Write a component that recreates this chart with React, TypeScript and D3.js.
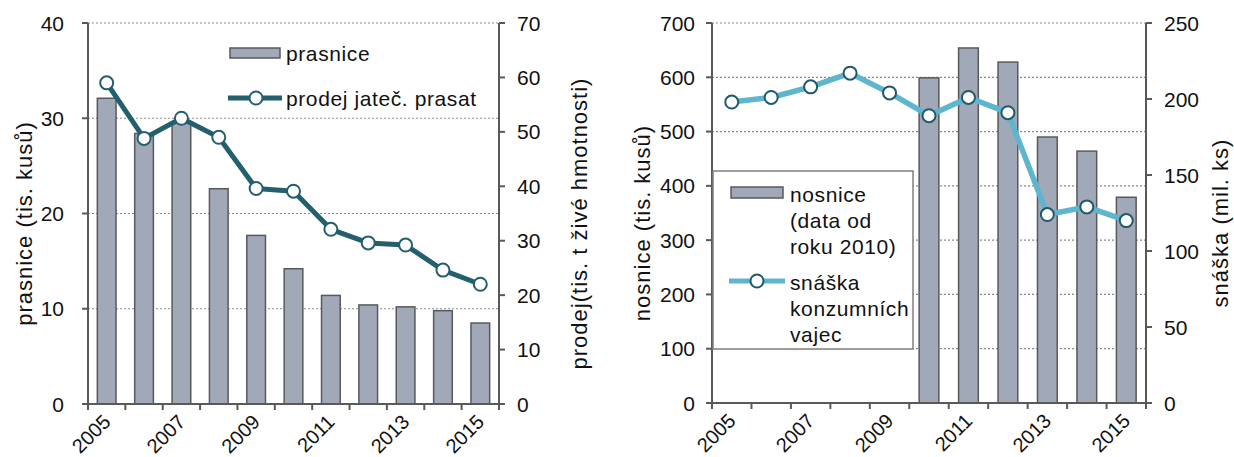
import { useEffect, useRef } from 'react'
import * as d3 from 'd3'

// Data
const years = ['2005', '2006', '2007', '2008', '2009', '2010', '2011', '2012', '2013', '2014', '2015']
const shownYears = ['2005', '2007', '2009', '2011', '2013', '2015']

const sows = [32.1, 28.4, 29.5, 22.6, 17.7, 14.2, 11.4, 10.4, 10.2, 9.8, 8.5]
const pigSales = [59.0, 48.8, 52.5, 49.0, 39.6, 39.1, 32.1, 29.6, 29.2, 24.6, 22.0]

const hens: (number | null)[] = [null, null, null, null, null, 599, 654, 628, 490, 464, 379]
const eggs = [198, 201, 208, 217, 204, 189, 201, 191, 124, 129, 120]

const sowsTicks = [0, 10, 20, 30, 40]
const pigSalesTicks = [0, 10, 20, 30, 40, 50, 60, 70]
const hensTicks = [0, 100, 200, 300, 400, 500, 600, 700]
const eggsTicks = [0, 50, 100, 150, 200, 250]

const FONT = '"Liberation Sans", Arial, sans-serif'
const AXIS = '#595959'
const BAR_FILL = '#a1a8b8'

interface PanelConfig {
  left: number
  right: number
  top: number
  bottom: number
  barValues: (number | null)[]
  lineValues: number[]
  leftTicks: number[]
  rightTicks: number[]
  lineColor: string
  lineWidth: number
  markerStroke: string
  leftLabelGap: number
  leftTitle: string
  leftTitleX: number
  rightTitle: string
  rightTitleX: number
}

function drawPanel(svg: d3.Selection<SVGSVGElement, unknown, null, undefined>, cfg: PanelConfig) {
  const g = svg.append('g')
  const x = d3.scaleBand<string>().domain(years).range([cfg.left, cfg.right])
  const step = x.step()
  const yL = d3.scaleLinear().domain([0, d3.max(cfg.leftTicks)!]).range([cfg.bottom, cfg.top])
  const yR = d3.scaleLinear().domain([0, d3.max(cfg.rightTicks)!]).range([cfg.bottom, cfg.top])

  // gridlines
  g.selectAll('.grid')
    .data(cfg.leftTicks.filter(t => t > 0))
    .join('line')
    .attr('x1', cfg.left)
    .attr('x2', cfg.right)
    .attr('y1', d => yL(d))
    .attr('y2', d => yL(d))
    .attr('stroke', '#8a8a8a')
    .attr('stroke-width', 1.2)
    .attr('stroke-dasharray', '2,2')

  // bars
  const barW = step * 0.5
  g.selectAll('.bar')
    .data(years.map((y, i) => ({ y, v: cfg.barValues[i] })).filter(d => d.v !== null))
    .join('rect')
    .attr('x', d => x(d.y)! + (step - barW) / 2)
    .attr('width', barW)
    .attr('y', d => yL(d.v as number))
    .attr('height', d => cfg.bottom - yL(d.v as number))
    .attr('fill', BAR_FILL)
    .attr('stroke', AXIS)
    .attr('stroke-width', 1.5)

  // axes
  g.append('line')
    .attr('x1', cfg.left).attr('x2', cfg.left)
    .attr('y1', cfg.top).attr('y2', cfg.bottom)
    .attr('stroke', AXIS).attr('stroke-width', 2)
  g.append('line')
    .attr('x1', cfg.right).attr('x2', cfg.right)
    .attr('y1', cfg.top).attr('y2', cfg.bottom)
    .attr('stroke', AXIS).attr('stroke-width', 2)
  g.append('line')
    .attr('x1', cfg.left - 6).attr('x2', cfg.right + 6)
    .attr('y1', cfg.bottom).attr('y2', cfg.bottom)
    .attr('stroke', AXIS).attr('stroke-width', 2)

  // left ticks + labels
  cfg.leftTicks.forEach(t => {
    g.append('line')
      .attr('x1', cfg.left - 6).attr('x2', cfg.left)
      .attr('y1', yL(t)).attr('y2', yL(t))
      .attr('stroke', AXIS).attr('stroke-width', 2)
    g.append('text')
      .attr('x', cfg.left - cfg.leftLabelGap)
      .attr('y', yL(t))
      .attr('dy', '0.36em')
      .attr('text-anchor', 'end')
      .attr('font-size', 21)
      .attr('fill', '#111')
      .text(t)
  })

  // right ticks + labels
  cfg.rightTicks.forEach(t => {
    g.append('line')
      .attr('x1', cfg.right).attr('x2', cfg.right + 6)
      .attr('y1', yR(t)).attr('y2', yR(t))
      .attr('stroke', AXIS).attr('stroke-width', 2)
    g.append('text')
      .attr('x', cfg.right + 18)
      .attr('y', yR(t))
      .attr('dy', '0.36em')
      .attr('font-size', 21)
      .attr('fill', '#111')
      .text(t)
  })

  // x ticks between categories
  d3.range(years.length + 1).forEach(i => {
    const xx = cfg.left + i * step
    g.append('line')
      .attr('x1', xx).attr('x2', xx)
      .attr('y1', cfg.bottom).attr('y2', cfg.bottom + 6)
      .attr('stroke', AXIS).attr('stroke-width', 2)
  })

  // x labels
  shownYears.forEach(yr => {
    const cx = x(yr)! + step / 2
    g.append('text')
      .attr('transform', `translate(${cx},${cfg.bottom + 14}) rotate(-45)`)
      .attr('dy', '0.36em')
      .attr('text-anchor', 'end')
      .attr('font-size', 20)
      .attr('fill', '#111')
      .text(yr)
  })

  // line series
  const line = d3
    .line<number>()
    .x((_, i) => x(years[i])! + step / 2)
    .y(d => yR(d))
  g.append('path')
    .datum(cfg.lineValues)
    .attr('d', line)
    .attr('fill', 'none')
    .attr('stroke', cfg.lineColor)
    .attr('stroke-width', cfg.lineWidth)
    .attr('stroke-linejoin', 'round')

  g.selectAll('.marker')
    .data(cfg.lineValues)
    .join('circle')
    .attr('cx', (_, i) => x(years[i])! + step / 2)
    .attr('cy', d => yR(d))
    .attr('r', 6.5)
    .attr('fill', '#fff')
    .attr('stroke', cfg.markerStroke)
    .attr('stroke-width', 2)

  // axis titles
  const midY = (cfg.top + cfg.bottom) / 2 + 10
  g.append('text')
    .attr('transform', `translate(${cfg.leftTitleX},${midY}) rotate(-90)`)
    .attr('dy', '0.36em')
    .attr('text-anchor', 'middle')
    .attr('font-size', 22)
    .attr('letter-spacing', 1)
    .attr('fill', '#111')
    .text(cfg.leftTitle)
  g.append('text')
    .attr('transform', `translate(${cfg.rightTitleX},${midY}) rotate(-90)`)
    .attr('dy', '0.36em')
    .attr('text-anchor', 'middle')
    .attr('font-size', 22)
    .attr('letter-spacing', 1)
    .attr('fill', '#111')
    .text(cfg.rightTitle)

  return g
}

export default function App() {
  const svgRef = useRef<SVGSVGElement>(null)

  useEffect(() => {
    if (!svgRef.current) return
    const svg = d3.select(svgRef.current)
    svg.selectAll('*').remove()

    // Left panel: pigs
    drawPanel(svg, {
      left: 88,
      right: 499,
      top: 23,
      bottom: 404,
      barValues: sows,
      lineValues: pigSales,
      leftTicks: sowsTicks,
      rightTicks: pigSalesTicks,
      lineColor: '#245f6d',
      lineWidth: 5,
      markerStroke: '#245f6d',
      leftLabelGap: 24,
      leftTitle: 'prasnice (tis. kusů)',
      leftTitleX: 24,
      rightTitle: 'prodej(tis. t živé hmotnosti)',
      rightTitleX: 579,
    })

    // Right panel: hens / eggs
    const right = drawPanel(svg, {
      left: 712,
      right: 1146,
      top: 23,
      bottom: 403,
      barValues: hens,
      lineValues: eggs,
      leftTicks: hensTicks,
      rightTicks: eggsTicks,
      lineColor: '#5db5ce',
      lineWidth: 5.5,
      markerStroke: '#1f5a6b',
      leftLabelGap: 17,
      leftTitle: 'nosnice (tis. kusů)',
      leftTitleX: 642,
      rightTitle: 'snáška (mil. ks)',
      rightTitleX: 1220,
    })

    // Left legend (no box)
    const legL = svg.append('g').attr('font-size', 21).attr('fill', '#111').attr('letter-spacing', 0.6)
    legL.append('rect')
      .attr('x', 230).attr('y', 48).attr('width', 50).attr('height', 10)
      .attr('fill', BAR_FILL).attr('stroke', AXIS).attr('stroke-width', 1.5)
    legL.append('text').attr('x', 286).attr('y', 53).attr('dy', '0.36em').text('prasnice')
    legL.append('line')
      .attr('x1', 228).attr('x2', 282).attr('y1', 98).attr('y2', 98)
      .attr('stroke', '#245f6d').attr('stroke-width', 5)
    legL.append('circle')
      .attr('cx', 256).attr('cy', 98).attr('r', 6.5)
      .attr('fill', '#fff').attr('stroke', '#245f6d').attr('stroke-width', 2)
    legL.append('text').attr('x', 286).attr('y', 98).attr('dy', '0.36em').text('prodej jateč. prasat')

    // Right legend (white box over the plot)
    const legR = right.append('g').attr('font-size', 21).attr('fill', '#111').attr('letter-spacing', 0.6)
    legR.append('rect')
      .attr('x', 713).attr('y', 171).attr('width', 200).attr('height', 178)
      .attr('fill', '#fff').attr('stroke', '#7f7f7f').attr('stroke-width', 1.5)
    legR.append('rect')
      .attr('x', 731).attr('y', 187).attr('width', 52).attr('height', 11)
      .attr('fill', BAR_FILL).attr('stroke', AXIS).attr('stroke-width', 1.5)
    const rLines1 = ['nosnice', '(data od', 'roku 2010)']
    rLines1.forEach((t, i) => {
      legR.append('text').attr('x', 790).attr('y', 194 + i * 26).attr('dy', '0.36em').text(t)
    })
    legR.append('line')
      .attr('x1', 729).attr('x2', 785).attr('y1', 281).attr('y2', 281)
      .attr('stroke', '#5db5ce').attr('stroke-width', 5)
    legR.append('circle')
      .attr('cx', 757).attr('cy', 281).attr('r', 6.5)
      .attr('fill', '#fff').attr('stroke', '#1f5a6b').attr('stroke-width', 2)
    const rLines2 = ['snáška', 'konzumních', 'vajec']
    rLines2.forEach((t, i) => {
      legR.append('text').attr('x', 790).attr('y', 282 + i * 26).attr('dy', '0.36em').text(t)
    })
  }, [])

  return (
    <svg
      ref={svgRef}
      width={1234}
      height={457}
      style={{ position: 'absolute', left: 0, top: 0, background: '#fff', fontFamily: FONT }}
    />
  )
}
